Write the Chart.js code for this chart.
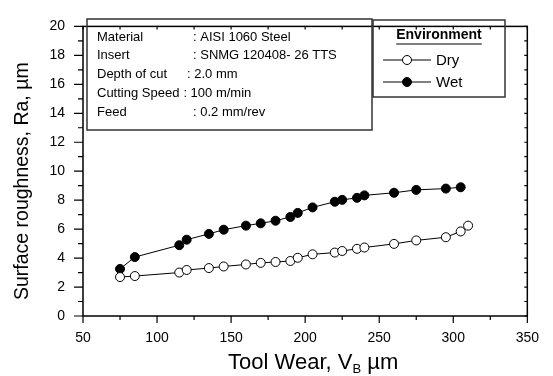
<!DOCTYPE html>
<html>
<head>
<meta charset="utf-8">
<script src="https://cdn.jsdelivr.net/npm/chart.js@4.4.0/dist/chart.umd.min.js"></script>
<style>
body { margin: 0; background: #fff; }
#wrap { width: 553px; height: 376px; }
</style>
</head>
<body>
<div id="wrap"><canvas id="chart--wear"></canvas></div>
<script>
// data
const wearDry = [75, 85, 115, 120, 135, 145, 160, 170, 180, 190, 195, 205, 220, 225, 235, 240, 260, 275, 295, 305, 310]
const raDry = [2.69, 2.76, 3.0, 3.18, 3.31, 3.42, 3.56, 3.67, 3.73, 3.8, 4.02, 4.26, 4.38, 4.49, 4.64, 4.73, 4.98, 5.22, 5.44, 5.84, 6.24]
const wearWet = [75, 85, 115, 120, 135, 145, 160, 170, 180, 190, 195, 205, 220, 225, 235, 240, 260, 275, 295, 305]
const raWet = [3.25, 4.07, 4.89, 5.27, 5.67, 5.96, 6.24, 6.4, 6.58, 6.84, 7.12, 7.5, 7.89, 8.02, 8.16, 8.33, 8.51, 8.71, 8.8, 8.89]

const xTicks = [50, 100, 150, 200, 250, 300, 350]
const yTicks = [0, 2, 4, 6, 8, 10, 12, 14, 16, 18, 20]

const seriesNames = ['Dry', 'Wet']
const legendTitle = 'Environment'
const infoLabels = ['Material', 'Insert', 'Depth of cut', 'Cutting Speed', 'Feed']
const infoValues = [': AISI 1060 Steel', ': SNMG 120408- 26 TTS', ': 2.0 mm', ': 100 m/min', ': 0.2 mm/rev']

const FONT = "'Liberation Sans', Arial, sans-serif"
Chart.defaults.font.family = FONT
Chart.defaults.color = '#000'

function pairs(xs, ys) {
	return xs.map(function(v, i) { return { x: v, y: ys[i] } })
}

// frame, minor ticks, titles, info box and legend
const decorPlugin = {
	id: 'decor',
	afterDraw(chart) {
		const ctx = chart.ctx
		const a = chart.chartArea
		const sx = chart.scales.x
		const sy = chart.scales.y
		ctx.save()
		ctx.strokeStyle = '#000'
		ctx.lineWidth = 1.5
		ctx.strokeRect(a.left, a.top, a.right - a.left, a.bottom - a.top)

		ctx.lineWidth = 1.2
		ctx.beginPath()
		for (let v = sx.min; v <= sx.max; v += 25) {
			const px = sx.getPixelForValue(v)
			const major = xTicks.indexOf(v) >= 0
			ctx.moveTo(px, a.bottom)
			ctx.lineTo(px, a.bottom + (major ? 7 : 4))
			ctx.moveTo(px, a.top)
			ctx.lineTo(px, a.top + 3)
		}
		for (let v = sy.min; v <= sy.max; v += 1) {
			const py = sy.getPixelForValue(v)
			const major = yTicks.indexOf(v) >= 0
			ctx.moveTo(a.left, py)
			ctx.lineTo(a.left - (major ? 9 : 5), py)
			ctx.moveTo(a.right, py)
			ctx.lineTo(a.right - 3, py)
		}
		ctx.stroke()

		// axis titles
		ctx.fillStyle = '#000'
		ctx.font = '19.5px ' + FONT
		ctx.textAlign = 'center'
		ctx.textBaseline = 'middle'
		ctx.save()
		ctx.translate(23, (a.top + a.bottom) / 2 + 10)
		ctx.rotate(-Math.PI / 2)
		ctx.fillText('Surface roughness, Ra, \u00b5m', 0, 0)
		ctx.restore()

		ctx.textBaseline = 'alphabetic'
		ctx.textAlign = 'left'
		const big = '22px ' + FONT
		const small = '13px ' + FONT
		ctx.font = big
		const w1 = ctx.measureText('Tool Wear, V').width
		const w3 = ctx.measureText(' \u00b5m').width
		ctx.font = small
		const w2 = ctx.measureText('B').width
		let tx = (a.left + a.right) / 2 + 8 - (w1 + w2 + w3) / 2
		const ty = 369
		ctx.font = big
		ctx.fillText('Tool Wear, V', tx, ty)
		ctx.font = small
		ctx.fillText('B', tx + w1, ty + 4)
		ctx.font = big
		ctx.fillText(' \u00b5m', tx + w1 + w2, ty)

		// info box
		ctx.lineWidth = 1.5
		ctx.strokeStyle = '#333'
		ctx.strokeRect(87, 19, 285, 111)
		ctx.font = '13px ' + FONT
		ctx.textBaseline = 'middle'
		for (let i = 0; i < infoLabels.length; i++) {
			const y = 37 + i * 18.8
			ctx.fillText(infoLabels[i], 97, y)
			const end = 97 + ctx.measureText(infoLabels[i]).width
			// short labels line up on a tab stop, long ones follow the text
			const vx = end + 4 > 180 ? end + 4 : (end + 4 > 160 ? 187 : 193)
			ctx.fillText(infoValues[i], vx, y)
		}

		// legend
		ctx.strokeRect(373, 20, 132, 77)
		ctx.font = 'bold 14px ' + FONT
		ctx.textAlign = 'center'
		ctx.fillText(legendTitle, 439, 35)
		const tw = ctx.measureText(legendTitle).width
		ctx.lineWidth = 1.2
		ctx.strokeStyle = '#000'
		ctx.beginPath()
		ctx.moveTo(439 - tw / 2, 44)
		ctx.lineTo(439 + tw / 2, 44)
		ctx.stroke()
		ctx.textAlign = 'left'
		ctx.font = '15px ' + FONT
		chart.data.datasets.forEach(function(ds, i) {
			const y = 60 + i * 22
			ctx.lineWidth = 1
			ctx.strokeStyle = '#000'
			ctx.beginPath()
			ctx.moveTo(383, y)
			ctx.lineTo(431, y)
			ctx.stroke()
			ctx.beginPath()
			ctx.arc(407, y, 4.5, 0, Math.PI * 2)
			ctx.fillStyle = ds.backgroundColor
			ctx.fill()
			ctx.stroke()
			ctx.fillStyle = '#000'
			ctx.fillText(ds.label, 436, y + 1)
		})
		ctx.restore()
	}
}

const ctx = document.getElementById('chart--wear').getContext('2d')
const chart__wear = new Chart(ctx, {
	type: 'scatter',
	data: {
		datasets: [{
			label: seriesNames[0],
			data: pairs(wearDry, raDry),
			showLine: true,
			borderColor: '#000',
			borderWidth: 1,
			backgroundColor: '#fff',
			pointBackgroundColor: '#fff',
			pointBorderColor: '#000',
			pointBorderWidth: 1,
			pointRadius: 4.5
		}, {
			label: seriesNames[1],
			data: pairs(wearWet, raWet),
			showLine: true,
			borderColor: '#000',
			borderWidth: 1,
			backgroundColor: '#000',
			pointBackgroundColor: '#000',
			pointBorderColor: '#000',
			pointBorderWidth: 1,
			pointRadius: 4.5
		}]
	},
	options: {
		responsive: true,
		maintainAspectRatio: false,
		animation: false,
		layout: {
			padding: { top: 16, right: 24, left: 0, bottom: 0 }
		},
		plugins: {
			legend: { display: false },
			tooltip: { enabled: false }
		},
		scales: {
			x: {
				type: 'linear',
				min: 50,
				max: 350,
				afterBuildTicks: function(s) { s.ticks = xTicks.map(function(v) { return { value: v } }) },
				afterFit: function(s) { s.height = 60 },
				grid: { display: false, drawTicks: false },
				border: { display: false },
				ticks: { font: { size: 14 }, padding: 14, maxRotation: 0 }
			},
			y: {
				min: 0,
				max: 20,
				afterBuildTicks: function(s) { s.ticks = yTicks.map(function(v) { return { value: v } }) },
				afterFit: function(s) { s.width = 83 },
				grid: { display: false, drawTicks: false },
				border: { display: false },
				ticks: { font: { size: 14 }, padding: 18 }
			}
		}
	},
	plugins: [decorPlugin]
})
</script>
</body>
</html>
